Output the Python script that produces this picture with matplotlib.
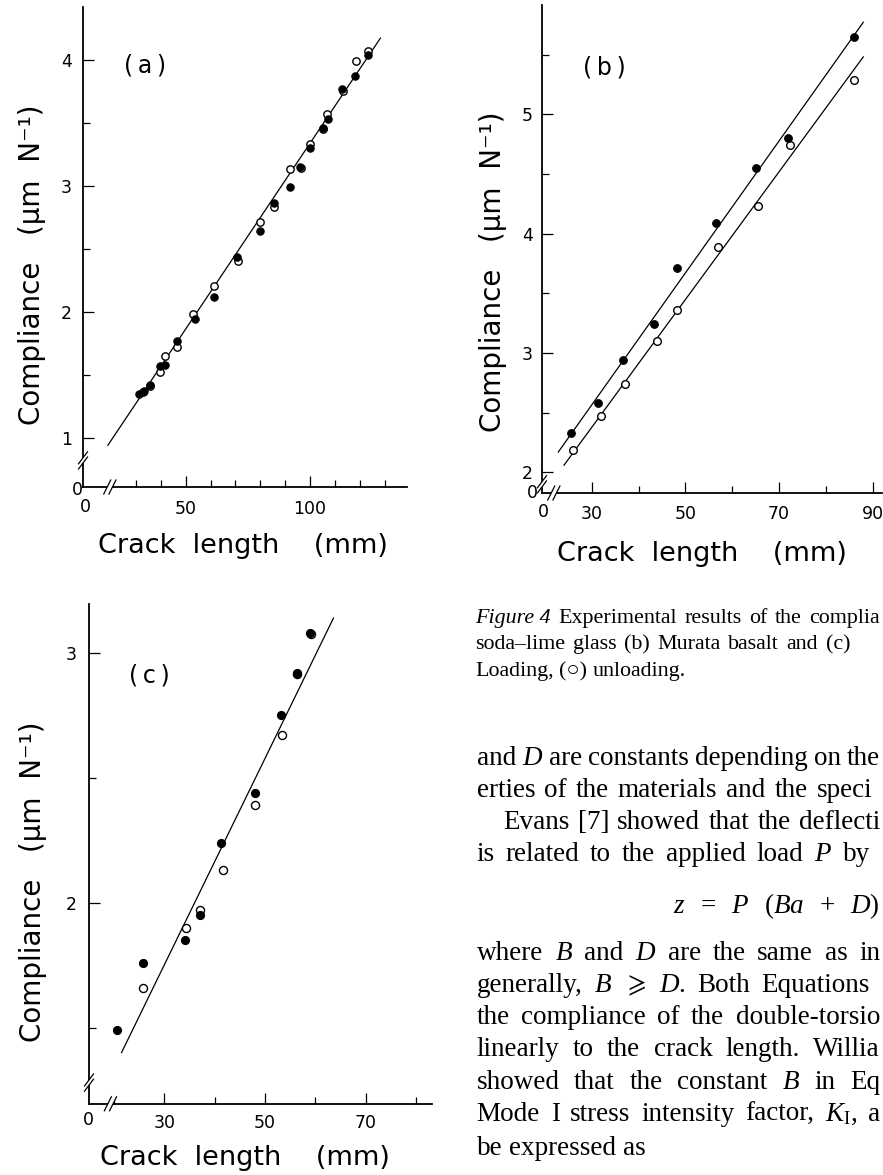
import matplotlib
matplotlib.use('Agg')
import matplotlib.pyplot as plt
from matplotlib.lines import Line2D
from matplotlib.patches import Polygon
from matplotlib.transforms import IdentityTransform, offset_copy, blended_transform_factory

# ---------------- data ----------------
# (a) soda-lime glass
a_load_x = [31.3, 33.2, 35.6, 39.6, 41.8, 46.4, 53.8, 61.3, 70.8, 79.9, 85.7, 92.0, 96.1, 100.1, 105.1, 107.3, 112.9, 118.1, 123.5]
a_load_y = [1.35, 1.37, 1.42, 1.57, 1.58, 1.77, 1.94, 2.12, 2.43, 2.64, 2.86, 2.99, 3.15, 3.30, 3.46, 3.53, 3.77, 3.87, 4.04]
a_unload_x = [32.7, 35.7, 39.6, 41.8, 46.4, 52.8, 61.3, 71.1, 79.8, 85.7, 92.1, 96.2, 100.1, 105.1, 106.9, 113.1, 118.4, 123.4]
a_unload_y = [1.36, 1.41, 1.52, 1.65, 1.72, 1.98, 2.20, 2.40, 2.71, 2.83, 3.13, 3.14, 3.33, 3.45, 3.57, 3.75, 3.99, 4.07]
a_fit_x = [18.7, 128.3]
a_fit_y = [0.94, 4.17]

# (b) Murata basalt
b_load_x = [25.6, 31.4, 36.6, 43.4, 48.2, 56.6, 65.1, 71.9, 86.0]
b_load_y = [2.33, 2.58, 2.94, 3.24, 3.71, 4.09, 4.55, 4.80, 5.65]
b_unload_x = [25.9, 31.9, 37.0, 44.0, 48.3, 57.0, 65.5, 72.3, 86.0]
b_unload_y = [2.19, 2.47, 2.74, 3.10, 3.36, 3.89, 4.23, 4.74, 5.29]
b_fit_load_x = [22.85, 88.0]
b_fit_load_y = [2.17, 5.77]
b_fit_unload_x = [24.07, 88.0]
b_fit_unload_y = [2.06, 5.48]

# (c)
c_load_x = [20.7, 25.7, 34.2, 37.0, 41.3, 48.0, 53.1, 56.3, 59.0]
c_load_y = [1.49, 1.76, 1.85, 1.95, 2.24, 2.44, 2.75, 2.92, 3.08]
c_unload_x = [25.8, 34.3, 37.0, 41.7, 48.0, 53.3, 56.4, 59.1]
c_unload_y = [1.66, 1.90, 1.97, 2.13, 2.39, 2.67, 2.915, 3.075]
c_fit_x = [21.5, 63.6]
c_fit_y = [1.40, 3.14]

a_xticks = [50, 100]; a_xminor = [30, 40, 60, 70, 80, 90, 110, 120, 130]
a_yticks = [1, 2, 3, 4]; a_yminor = [1.5, 2.5, 3.5]
b_xticks = [30, 50, 70, 90]; b_xminor = [40, 60, 80]
b_yticks = [2, 3, 4, 5]; b_yminor = [2.5, 3.5, 4.5, 5.5]
c_xticks = [30, 50, 70]; c_xminor = [20, 40, 60, 80]
c_yticks = [2, 3]; c_yminor = [1.5, 2.5]

xlabel_txt = "Crack  length    (mm)"
ylabel_txt = "Compliance   (\u03bcm  N\u207b\u00b9)"

# ---------------- figure ----------------
W, H = 883, 1175
plt.rcParams['mathtext.fontset'] = 'custom'
plt.rcParams['mathtext.rm'] = 'Liberation Serif'
plt.rcParams['mathtext.it'] = 'Liberation Serif:italic'
plt.rcParams['mathtext.bf'] = 'Liberation Serif:bold'
plt.rcParams['mathtext.fallback'] = 'stix'
plt.rcParams['font.family'] = ['DejaVu Sans']

fig = plt.figure(figsize=(W / 100, H / 100), dpi=100)
fig.patch.set_facecolor('white')
SANS = 'DejaVu Sans'


def add_axes_px(l, r, t, b):
    return fig.add_axes([l / W, 1 - b / H, (r - l) / W, (b - t) / H])


def style(ax, xlim, ylim, xt, xm, yt, ym, xpad, ypad):
    ax.set_xlim(xlim)
    ax.set_ylim(ylim)
    for s in ['top', 'right']:
        ax.spines[s].set_visible(False)
    for s in ['left', 'bottom']:
        ax.spines[s].set_linewidth(1.3)
    ax.set_xticks(xt)
    ax.set_xticklabels([str(v) for v in xt])
    ax.set_xticks(xm, minor=True)
    ax.set_yticks(yt)
    ax.set_yticklabels([str(v) for v in yt])
    ax.set_yticks(ym, minor=True)
    ax.tick_params(which='both', direction='in', width=0.9, colors='black')
    ax.tick_params(which='major', length=8)
    ax.tick_params(which='minor', length=5)
    ax.tick_params(axis='x', which='major', pad=xpad, labelsize=12.5)
    ax.tick_params(axis='y', which='major', pad=ypad, labelsize=12.5)
    ax.patch.set_alpha(0)


def pts(ax, xs, ys, filled, ms):
    if filled:
        ax.plot(xs, ys, 'o', ms=ms, mfc='black', mec='black', mew=0.8, ls='none', zorder=4)
    else:
        ax.plot(xs, ys, 'o', ms=ms, mfc='white', mec='black', mew=1.0, ls='none', zorder=3)


def corner_label(ax, txt, dx, dy):
    tr = offset_copy(ax.transAxes, fig=fig, x=dx, y=-dy, units='dots')
    ax.text(0, 0, txt, transform=tr, ha='center', va='center', fontsize=12.5, family=SANS)


def brk(ax, axis, val):
    if axis == 'x':
        tr = blended_transform_factory(ax.transData, ax.transAxes)
        cx, cy = tr.transform((val, 0))
        d = 2.6
        l1 = [(cx - d - 3.5, cy - 7), (cx - d + 3.5, cy + 7)]
        l2 = [(cx + d - 3.5, cy - 7), (cx + d + 3.5, cy + 7)]
    else:
        tr = blended_transform_factory(ax.transAxes, ax.transData)
        cx, cy = tr.transform((0, val))
        d = 2.6
        l1 = [(cx - 4.5, cy - d - 6), (cx + 4.5, cy - d + 6)]
        l2 = [(cx - 4.5, cy + d - 6), (cx + 4.5, cy + d + 6)]
    poly = Polygon([l1[0], l1[1], l2[1], l2[0]], closed=True, fc='white', ec='none',
                   transform=IdentityTransform(), zorder=5)
    fig.add_artist(poly)
    for ln in (l1, l2):
        fig.add_artist(Line2D([ln[0][0], ln[1][0]], [ln[0][1], ln[1][1]], color='black', lw=0.9,
                              transform=IdentityTransform(), zorder=6))


def ftext(x, y, s, **kw):
    fig.text(x / W, 1 - y / H, s, **kw)


# ---- panel (a)
axa = add_axes_px(83, 407, 7, 487)
style(axa, (8.7, 139.0), (0.609, 4.417), a_xticks, a_xminor, a_yticks, a_yminor, 9.5, 7.9)
axa.plot(a_fit_x, a_fit_y, color='black', lw=0.9, zorder=2)
pts(axa, a_unload_x, a_unload_y, False, 5.3)
pts(axa, a_load_x, a_load_y, True, 5.3)
corner_label(axa, '0', -6, 3)
corner_label(axa, '0', 2, 19.5)
ftext(145, 66, "(\u2009a\u2009)", fontsize=17, family=SANS, ha='center', va='center')
ftext(242.5, 546, xlabel_txt, fontsize=19.5, family=SANS, ha='center', va='center')
ftext(31.7, 265, ylabel_txt, fontsize=20, family=SANS, ha='center', va='center', rotation=90)

# ---- panel (b)
axb = add_axes_px(542, 882, 4.6, 493)
style(axb, (19.37, 92.0), (1.827, 5.918), b_xticks, b_xminor, b_yticks, b_yminor, 8.9, 6.5)
axb.plot(b_fit_load_x, b_fit_load_y, color='black', lw=0.9, zorder=2)
axb.plot(b_fit_unload_x, b_fit_unload_y, color='black', lw=0.9, zorder=2)
pts(axb, b_unload_x, b_unload_y, False, 5.5)
pts(axb, b_load_x, b_load_y, True, 5.5)
corner_label(axb, '0', -9.3, 0)
corner_label(axb, '0', 1.3, 18.6)
ftext(604, 67, "(\u2009b\u2009)", fontsize=17, family=SANS, ha='center', va='center')
ftext(701.5, 554, xlabel_txt, fontsize=19.5, family=SANS, ha='center', va='center')
ftext(493.3, 272, ylabel_txt, fontsize=20, family=SANS, ha='center', va='center', rotation=90)

# ---- panel (c)
axc = add_axes_px(89, 431.7, 604, 1103.8)
style(axc, (15.04, 83.1), (1.195, 3.196), c_xticks, c_xminor, c_yticks, c_yminor, 7.1, 9.0)
axc.plot(c_fit_x, c_fit_y, color='black', lw=0.9, zorder=2)
pts(axc, c_unload_x, c_unload_y, False, 5.8)
pts(axc, c_load_x, c_load_y, True, 5.8)
corner_label(axc, '0', -0.7, 16)
ftext(149, 676, "(\u2009c\u2009)", fontsize=17, family=SANS, ha='center', va='center')
ftext(245, 1158, xlabel_txt, fontsize=19.5, family=SANS, ha='center', va='center')
ftext(33, 882, ylabel_txt, fontsize=20, family=SANS, ha='center', va='center', rotation=90)

# break marks
brk(axa, 'x', 19.5)
brk(axa, 'y', 0.82)
brk(axb, 'x', 21.9)
brk(axb, 'y', 1.90)
brk(axc, 'x', 19.3)
brk(axc, 'y', 1.28)

# ---------------- text column ----------------
renderer = fig.canvas.get_renderer()
SERIF = 'Liberation Serif'


def place_words(words, x0, y, size, mode, xref=0):
    texts = []
    for w in words:
        st = 'normal'
        if isinstance(w, tuple):
            w, st = w
        texts.append(fig.text(0, 0, w, fontsize=size, family=[SERIF, 'DejaVu Serif'], style=st,
                              transform=IdentityTransform(), ha='left', va='baseline'))
    widths = [t.get_window_extent(renderer).width for t in texts]
    n = len(texts)
    if mode == 'end' and n > 1:
        gap = (xref - x0 - sum(widths)) / (n - 1)
    else:
        gap = size * 100 / 72 * 0.25
    x = x0
    for t, w in zip(texts, widths):
        t.set_position((x, H - y))
        x += w + gap


CAP = 15.8
BODY = 19.5
EDGE = 880
place_words([("Figure 4", 'italic'), "Experimental", "results", "of", "the", "complia"],
            475, 623, CAP, 'end', EDGE)
place_words(["soda\u2013lime", "glass", "(b)", "Murata", "basalt", "and", "(c)"],
            475, 649, CAP, 'end', 850)
place_words(["Loading,", "(\u25cb)", "unloading."], 475, 676, CAP, 'nat')

place_words(["and", "$D$", "are", "constants", "depending", "on", "the"], 476.7, 765, BODY, 'end', EDGE)
place_words(["erties", "of", "the", "materials", "and", "the", "speci"], 476.7, 797, BODY, 'end', EDGE - 8)
place_words(["Evans", "[7]", "showed", "that", "the", "deflecti"], 503, 829, BODY, 'end', EDGE)
place_words(["is", "related", "to", "the", "applied", "load", "$P$", "by"], 476.7, 861, BODY, 'end', 870)
place_words(["$z$", "=", "$P$", "$(Ba$", "+", "$D)$"], 673, 913, BODY, 'end', EDGE)
place_words(["where", "$B$", "and", "$D$", "are", "the", "same", "as", "in"], 476.7, 960, BODY, 'end', EDGE)
place_words(["generally,", "$B$", r"$\geqslant$", "$D$.", "Both", "Equations"], 476.7, 992, BODY, 'end', 870)
place_words(["the", "compliance", "of", "the", "double-torsio"], 476.7, 1024, BODY, 'end', EDGE)
place_words(["linearly", "to", "the", "crack", "length.", "Willia"], 476.7, 1056, BODY, 'end', EDGE)
place_words(["showed", "that", "the", "constant", "$B$", "in", "Eq"], 476.7, 1089, BODY, 'end', EDGE)
place_words(["Mode", "I", "stress", "intensity", "factor,", r"$K_{\mathrm{I}}$,", "a"], 476.7, 1121, BODY, 'end', EDGE)
place_words(["be", "expressed", "as"], 476.7, 1155, BODY, 'nat')

fig.savefig('out.png', dpi=100, facecolor='white')
